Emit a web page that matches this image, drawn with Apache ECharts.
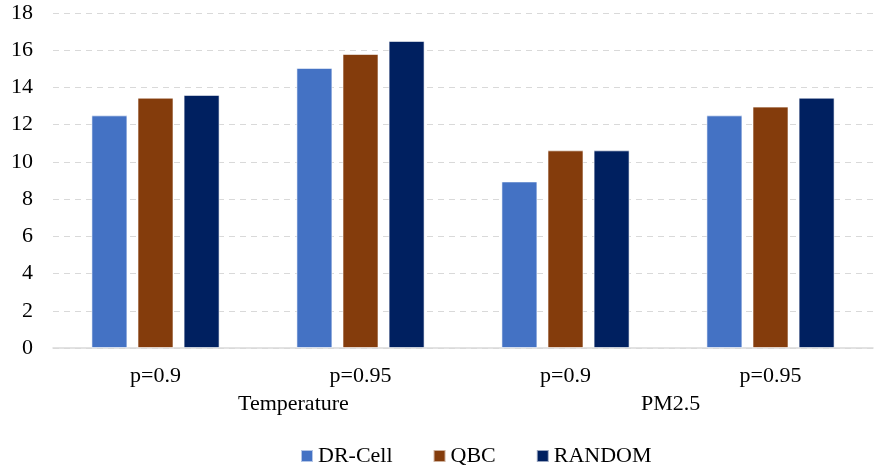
<!DOCTYPE html>
<html><head><meta charset="utf-8">
<script src="https://cdn.jsdelivr.net/npm/echarts@6/dist/echarts.min.js"></script>
<style>html,body{margin:0;padding:0;background:#fff}#c{width:875px;height:469px}</style>
</head><body><div id="c"></div>
<script>
const categories = ['p=0.9', 'p=0.95', 'p=0.9', 'p=0.95'];
const groups = ['Temperature', 'PM2.5'];
const drCell = [12.5, 15.05, 8.95, 12.5];
const qbc = [13.45, 15.8, 10.62, 12.97];
const random = [13.6, 16.5, 10.62, 13.45];
const yTicks = [0, 18, 2];

const font = '"Liberation Serif", "Times New Roman", serif';
const chart = echarts.init(document.getElementById('c'));
const mk = (name, data, color) => ({
  name, type: 'bar', data, barWidth: 36, barGap: '28%',
  itemStyle: { color, borderColor: 'rgba(255,255,255,0.6)', borderWidth: 1 }
});
chart.setOption({
  animation: false,
  textStyle: { fontFamily: font },
  grid: { left: 53, right: 2, top: 13, bottom: 121 },
  legend: {
    top: 440, left: 295, itemWidth: 12, itemHeight: 12, itemGap: 40,
    icon: 'rect',
    textStyle: { fontFamily: font, fontSize: 22, color: '#000' },
    data: ['DR-Cell', 'QBC', 'RANDOM']
  },
  xAxis: {
    type: 'category', data: categories,
    axisLine: { lineStyle: { color: '#d9d9d9', width: 1.5 } },
    axisTick: { show: false },
    axisLabel: { color: '#000', fontSize: 22, fontFamily: font, margin: 17 }
  },
  yAxis: {
    type: 'value', min: yTicks[0], max: yTicks[1], interval: yTicks[2],
    axisLine: { show: false }, axisTick: { show: false },
    axisLabel: { color: '#000', fontSize: 22, fontFamily: font, margin: 20 },
    splitLine: { lineStyle: { color: '#d9d9d9', type: [6, 5], width: 1.2 } }
  },
  graphic: [
    { type: 'text', left: 238, top: 393, style: { text: groups[0], font: '22px ' + font, fill: '#000' } },
    { type: 'text', left: 641, top: 393, style: { text: groups[1], font: '22px ' + font, fill: '#000' } }
  ],
  series: [
    mk('DR-Cell', drCell, '#4472C4'),
    mk('QBC', qbc, '#843C0C'),
    mk('RANDOM', random, '#002060')
  ]
});
</script></body></html>
